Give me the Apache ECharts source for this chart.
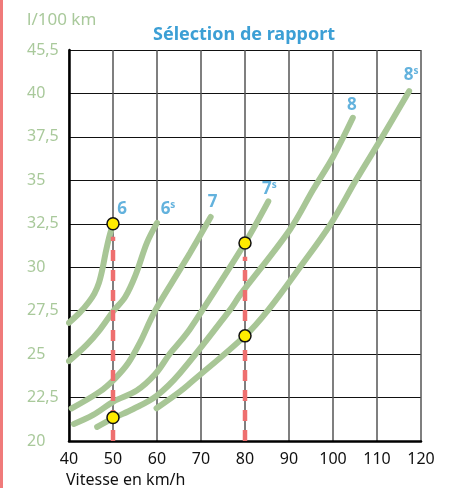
<!DOCTYPE html>
<html><head><meta charset="utf-8">
<script src="https://cdn.jsdelivr.net/npm/echarts@6/dist/echarts.min.js"></script>
<style>html,body{margin:0;padding:0;background:#fff}#c{width:456px;height:488px}</style>
</head><body><div id="c"></div>
<script>
// ---- data ----
const xTickLabels = ['40','50','60','70','80','90','100','110','120'];
const yTickLabels = ['20','22,5','25','27,5','30','32,5','35','37,5','40','45,5'];
const curveNames = ['6','6s','7','7s','8','8s'];
const curve6  = [[40,26.8],[42.5,27.4],[44.5,28.0],[45.8,28.5],[46.8,29.1],[47.6,29.9],[48.3,30.8],[49.1,31.7],[50,32.5]];
const curve6s = [[40,24.6],[44,25.53],[47,26.4],[50,27.45],[52.8,28.3],[55.2,29.6],[57.7,31.4],[60,32.55]];
const curve7  = [[40.6,21.88],[47,22.84],[50.5,23.61],[53.5,24.5],[56.2,25.7],[58.4,26.9],[60,27.7],[65.2,29.86],[67.5,30.82],[72.2,32.89]];
const curve7s = [[41.1,20.98],[45.5,21.5],[50.1,22.27],[55.4,22.9],[59.6,23.85],[63,25.05],[65.2,25.7],[67.5,26.45],[70.5,27.6],[80,31.39],[85.3,33.79]];
const curve8  = [[46.4,20.81],[50,21.3],[54.6,21.84],[59.9,22.6],[65.2,23.9],[76.6,27.55],[78.9,28.41],[90.2,32.16],[95.5,34.47],[100.1,36.39],[104.5,38.6]];
const curve8s = [[59.9,21.88],[65.2,22.84],[67.5,23.32],[80,26.05],[85.3,27.55],[92.5,30.0],[99.5,32.5],[105.2,35.0],[111.2,37.5],[117.3,40.13]];
const markerPoints = [[50,32.5],[50,21.35],[80,31.39],[80,26.05]];
const dropLineTops = [[50,31.75],[80,30.6]];

// ---- styling / layout ----
const curves = [curve6, curve6s, curve7, curve7s, curve8, curve8s];
const labelOffsets = [[9,-15],[11,-14],[2,-15],[1,-12],[-1,-13],[2,-16]];
const green = '#a8c696', blue = '#3c9fd5', red = '#ee6f6f', yGreen = '#a9c99b';
const FF = 'Noto Sans';

const series = [];
curves.forEach((d, i) => {
  series.push({
    type: 'line', name: curveNames[i], data: d, smooth: 0.35, symbol: 'none', z: 2,
    lineStyle: { color: green, width: 6, cap: 'round' }
  });
});
dropLineTops.forEach(p => {
  series.push({
    type: 'line', data: [[p[0], 20], p], symbol: 'none', z: 3,
    lineStyle: { color: red, width: 4.5, type: [11, 9], cap: 'butt' }
  });
});
series.push({
  type: 'scatter', data: markerPoints, symbolSize: 12, z: 5,
  itemStyle: { color: '#ffeb00', borderColor: '#111', borderWidth: 1.5, opacity: 1 }
});
series.push({
  type: 'scatter', symbolSize: 0, z: 6, silent: true,
  data: curves.map((d, i) => ({
    value: d[d.length - 1], name: curveNames[i],
    label: { offset: labelOffsets[i] }
  })),
  label: {
    show: true, position: 'inside',
    formatter: p => {
      const n = p.name;
      return n.length > 1 ? '{n|' + n[0] + '}{s|' + n.slice(1) + '}' : '{n|' + n + '}';
    },
    rich: {
      n: { fontFamily: FF, fontSize: 17, fontWeight: 'bold', color: blue },
      s: { fontFamily: FF, fontSize: 10, fontWeight: 'bold', color: blue, verticalAlign: 'top', padding: [0,0,8,0] }
    }
  }
});

const chart = echarts.init(document.getElementById('c'), null, { renderer: 'canvas' });
chart.setOption({
  animation: false,
  backgroundColor: '#fff',
  title: [
    { text: 'Sélection de rapport', left: 153, top: 26, padding: 0,
      textStyle: { fontFamily: FF, fontSize: 18, fontWeight: 'bold', color: blue } },
    { text: 'l/100 km', left: 27, top: 12, padding: 0,
      textStyle: { fontFamily: FF, fontSize: 17, fontWeight: 'normal', color: yGreen } },
    { text: 'Vitesse en km/h', left: 66, top: 472, padding: 0,
      textStyle: { fontFamily: FF, fontSize: 16, fontWeight: 'normal', color: '#111' } }
  ],
  graphic: [
    { type: 'rect', left: 0, top: 0, shape: { width: 3, height: 488 }, style: { fill: '#f07a7a' } }
  ],
  grid: { left: 69, right: 35, top: 50, bottom: 47, containLabel: false },
  xAxis: {
    type: 'value', min: 40, max: 120, interval: 10,
    axisLine: { show: true, onZero: false, lineStyle: { color: '#000', width: 2.5 } },
    axisTick: { show: false },
    splitLine: { show: true, lineStyle: { color: '#555', width: 1.5 } },
    axisLabel: { margin: 10, fontFamily: FF, fontSize: 16, color: '#111',
      formatter: v => xTickLabels[Math.round((v - 40) / 10)] }
  },
  yAxis: {
    type: 'value', min: 20, max: 42.5, interval: 2.5,
    axisLine: { show: true, onZero: false, lineStyle: { color: '#000', width: 2.5 } },
    axisTick: { show: false },
    splitLine: { show: true, lineStyle: { color: '#111', width: 1.2 } },
    axisLabel: { margin: 42, align: 'left', fontFamily: FF, fontSize: 16, color: yGreen,
      formatter: v => yTickLabels[Math.round((v - 20) / 2.5)] }
  },
  series: series
});
</script></body></html>
